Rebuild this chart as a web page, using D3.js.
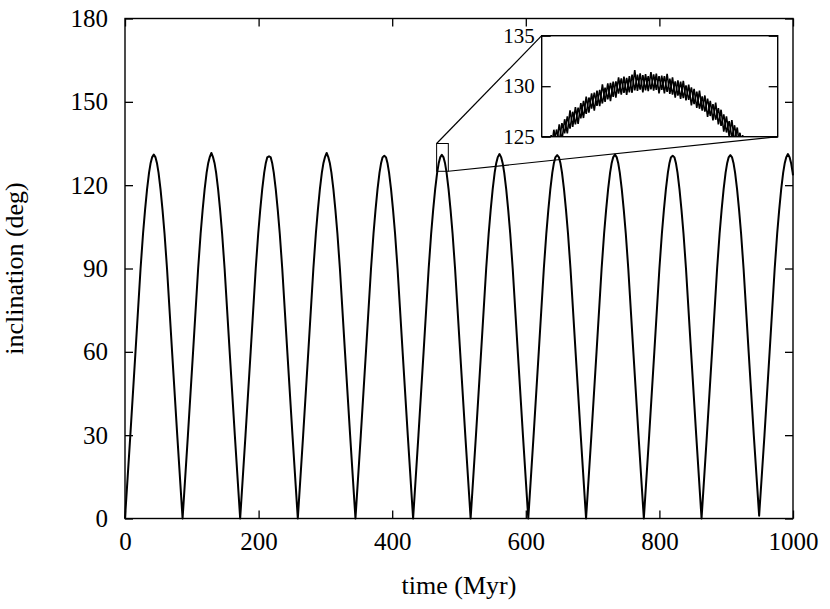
<!DOCTYPE html>
<html>
<head>
<meta charset="utf-8">
<script src="https://cdn.jsdelivr.net/npm/d3@7"></script>
<style>
body { margin: 0; background: #fff; }
svg { display: block; }
text { font-family: "Liberation Serif", "DejaVu Serif", serif; fill: #000; }
</style>
</head>
<body>
<script>
// inclination vs time (Myr, deg)
const time = [
  0, 8, 15.7, 23.3, 27, 30, 33, 36, 38.4, 40.5, 43.1, 45.7, 47.8, 50.2, 53.2, 56.2, 59.2, 62.9, 70.5, 78.2,
  86.2, 94.2, 101.9, 109.5, 113.2, 116.2, 119.2, 122.2, 124.6, 126.7, 129.3, 131.9, 134.0, 136.4, 139.4, 142.4, 145.4, 149.1, 156.7, 164.4,
  172.4, 180.4, 188.1, 195.7, 199.4, 202.4, 205.4, 208.4, 210.8, 212.9, 215.6, 218.2, 220.3, 222.7, 225.7, 228.7, 231.7, 235.4, 243.0, 250.7,
  258.7, 266.7, 274.4, 282.0, 285.7, 288.7, 291.7, 294.7, 297.1, 299.2, 301.9, 304.5, 306.6, 309.0, 312.0, 315.0, 318.0, 321.7, 329.3, 337.0,
  345.0, 353.0, 360.7, 368.3, 372.0, 375.0, 378.0, 381.0, 383.4, 385.5, 388.2, 390.8, 392.9, 395.3, 398.3, 401.3, 404.3, 408.0, 415.6, 423.3,
  431.3, 439.3, 447.0, 454.6, 458.3, 461.3, 464.3, 467.3, 469.7, 471.8, 474.3, 476.9, 479.0, 481.4, 484.4, 487.4, 490.4, 494.1, 501.7, 509.4,
  517.4, 525.4, 533.1, 540.7, 544.4, 547.4, 550.4, 553.4, 555.8, 557.9, 560.6, 563.2, 565.3, 567.7, 570.7, 573.7, 576.7, 580.4, 588.0, 595.7,
  603.7, 611.7, 619.4, 627.0, 630.7, 633.7, 636.7, 639.7, 642.1, 644.2, 647.0, 649.7, 651.8, 654.2, 657.2, 660.2, 663.2, 666.9, 674.5, 682.2,
  690.2, 698.2, 705.9, 713.5, 717.2, 720.2, 723.2, 726.2, 728.6, 730.7, 733.5, 736.2, 738.3, 740.7, 743.7, 746.7, 749.7, 753.4, 761.0, 768.7,
  776.7, 784.7, 792.4, 800.0, 803.7, 806.7, 809.7, 812.7, 815.1, 817.2, 819.9, 822.6, 824.7, 827.1, 830.1, 833.1, 836.1, 839.8, 847.4, 855.1,
  863.1, 871.1, 878.8, 886.4, 890.1, 893.1, 896.1, 899.1, 901.5, 903.6, 906.2, 908.8, 910.9, 913.3, 916.3, 919.3, 922.3, 926.0, 933.6, 941.3,
  949.3, 957.3, 965.0, 972.6, 976.3, 979.3, 982.3, 985.3, 987.7, 989.8, 992.4, 995.0, 997.1, 999.5, 1000
];
const incl = [
  0, 30, 60, 90, 102.5, 111, 118.5, 124.5, 128, 130, 131.0, 130, 128, 124.5, 118.5, 111, 102.5, 90, 60, 30,
  0, 30, 60, 90, 102.5, 111, 118.5, 124.5, 128, 130, 131.6, 130, 128, 124.5, 118.5, 111, 102.5, 90, 60, 30,
  0, 30, 60, 90, 102.5, 111, 118.5, 124.5, 128, 130, 130.4, 130, 128, 124.5, 118.5, 111, 102.5, 90, 60, 30,
  0, 30, 60, 90, 102.5, 111, 118.5, 124.5, 128, 130, 131.6, 130, 128, 124.5, 118.5, 111, 102.5, 90, 60, 30,
  0, 30, 60, 90, 102.5, 111, 118.5, 124.5, 128, 130, 130.6, 130, 128, 124.5, 118.5, 111, 102.5, 90, 60, 30,
  0, 30, 60, 90, 102.5, 111, 118.5, 124.5, 128, 130, 130.9, 130, 128, 124.5, 118.5, 111, 102.5, 90, 60, 30,
  0, 30, 60, 90, 102.5, 111, 118.5, 124.5, 128, 130, 131.2, 130, 128, 124.5, 118.5, 111, 102.5, 90, 60, 30,
  0, 30, 60, 90, 102.5, 111, 118.5, 124.5, 128, 130, 130.8, 130, 128, 124.5, 118.5, 111, 102.5, 90, 60, 30,
  0, 30, 60, 90, 102.5, 111, 118.5, 124.5, 128, 130, 131.0, 130, 128, 124.5, 118.5, 111, 102.5, 90, 60, 30,
  0, 30, 60, 90, 102.5, 111, 118.5, 124.5, 128, 130, 130.6, 130, 128, 124.5, 118.5, 111, 102.5, 90, 60, 30,
  0, 30, 60, 90, 102.5, 111, 118.5, 124.5, 128, 130, 130.8, 130, 128, 124.5, 118.5, 111, 102.5, 90, 60, 30,
  1, 30, 60, 90, 102.5, 111, 118.5, 124.5, 128, 130, 131.2, 130, 128, 124.5, 123.5
];

// zoomed stretch around the peak near 474 Myr (two overlapping traces)
const zoomTime = [
  467.0, 467.2, 467.4, 467.6, 467.8, 468.0, 468.2, 468.4, 468.6, 468.8,
  469.0, 469.2, 469.4, 469.6, 469.8, 470.0, 470.2, 470.4, 470.6, 470.8,
  471.0, 471.2, 471.4, 471.6, 471.8, 472.0, 472.2, 472.4, 472.6, 472.8,
  473.0, 473.2, 473.4, 473.6, 473.8, 474.0, 474.2, 474.4, 474.6, 474.8,
  475.0, 475.2, 475.4, 475.6, 475.8, 476.0, 476.2, 476.4, 476.6, 476.8,
  477.0, 477.2, 477.4, 477.6, 477.8, 478.0, 478.2, 478.4, 478.6, 478.8,
  479.0, 479.2, 479.4, 479.6, 479.8, 480.0, 480.2, 480.4, 480.6, 480.8,
  481.0, 481.2, 481.4, 481.6
];
const zoomInclA = [
  124.8, 123.45, 125.69, 124.21, 126.23, 124.64, 126.73, 125.32, 127.6, 125.97,
  127.93, 126.28, 128.32, 126.85, 128.97, 127.38, 129.28, 127.57, 129.56, 128.03,
  130.19, 128.45, 130.29, 128.53, 130.45, 128.87, 130.87, 129.17, 130.95, 129.13,
  131.0, 129.35, 131.6, 129.54, 131.27, 129.39, 131.2, 129.5, 131.39, 129.57,
  131.24, 129.3, 131.05, 129.3, 131.23, 129.25, 130.87, 128.87, 130.57, 128.75,
  130.53, 128.59, 130.15, 128.09, 129.73, 127.86, 129.57, 127.58, 129.08, 126.97,
  128.55, 126.62, 128.38, 126.23, 127.67, 125.5, 127.02, 125.03, 126.64, 124.53,
  125.91, 123.69, 125.15, 123.1
];
const zoomInclB = [
  123.3, 125.15, 124.09, 125.71, 124.53, 126.34, 125.33, 127.02, 125.8, 127.47,
  126.23, 127.88, 126.82, 128.55, 127.27, 128.88, 127.78, 129.37, 128.06, 129.63,
  128.29, 129.85, 128.69, 130.33, 128.95, 130.47, 129.27, 130.77, 129.35, 130.83,
  129.4, 131.15, 129.6, 131.14, 129.67, 131.09, 129.6, 131.0, 129.69, 131.17,
  129.64, 131.0, 129.65, 131.0, 129.43, 130.75, 129.17, 130.47, 129.07, 130.45,
  128.83, 130.09, 128.65, 129.89, 128.23, 129.46, 127.77, 128.98, 127.48, 128.77,
  127.05, 128.22, 126.68, 127.83, 126.07, 127.2, 125.42, 126.53, 124.94, 126.13,
  124.31, 125.39, 123.75, 124.8
];

const xTicks = [0, 200, 400, 600, 800, 1000];
const yTicks = [0, 30, 60, 90, 120, 150, 180];
const zoomXRange = [466.5, 484];
const zoomYRange = [125, 135];
const zoomYTicks = [125, 130, 135];

const width = 830, height = 609;
const svg = d3.select("body").append("svg")
    .attr("width", width).attr("height", height);

const x = d3.scaleLinear().domain([0, 1000]).range([125, 793]);
const y = d3.scaleLinear().domain([0, 180]).range([518.5, 18.5]);

const data = time.map((t, i) => ({t: t, v: incl[i]}));
const line = d3.line().x(d => x(d.t)).y(d => y(d.v));

svg.append("path")
    .datum(data)
    .attr("d", line)
    .attr("fill", "none")
    .attr("stroke", "#000")
    .attr("stroke-width", 2)
    .attr("stroke-linejoin", "round");

// axes, ticks inward and mirrored
let tickLen = 8;
svg.append("g").attr("transform", "translate(0,518.5)")
    .call(d3.axisBottom(x).tickValues(xTicks).tickSize(-tickLen).tickPadding(14).tickFormat(d3.format("d")));
svg.append("g").attr("transform", "translate(0,18.5)")
    .call(d3.axisTop(x).tickValues(xTicks).tickSize(-tickLen).tickFormat(""));
svg.append("g").attr("transform", "translate(125,0)")
    .call(d3.axisLeft(y).tickValues(yTicks).tickSize(-tickLen).tickPadding(17).tickFormat(d3.format("d")));
svg.append("g").attr("transform", "translate(793,0)")
    .call(d3.axisRight(y).tickValues(yTicks).tickSize(-tickLen).tickFormat(""));

svg.selectAll(".domain").remove();
svg.selectAll(".tick line").attr("stroke", "#000").attr("stroke-width", 1.3);
svg.selectAll(".tick text")
    .attr("font-family", "Liberation Serif, serif")
    .attr("font-size", 25)
    .attr("fill", "#000");

svg.append("rect")
    .attr("x", 125).attr("y", 18.5)
    .attr("width", 668).attr("height", 500)
    .attr("fill", "none").attr("stroke", "#000").attr("stroke-width", 1.4);

svg.append("text")
    .attr("x", 459).attr("y", 594)
    .attr("text-anchor", "middle")
    .attr("font-size", 26)
    .text("time (Myr)");

svg.append("text")
    .attr("transform", "translate(23,268.5) rotate(-90)")
    .attr("text-anchor", "middle")
    .attr("font-size", 26)
    .text("inclination (deg)");

// zoom box on main plot
let bx0 = x(zoomXRange[0]), bx1 = x(zoomXRange[1]);
let by0 = y(zoomYRange[1]), by1 = y(zoomYRange[0]);
svg.append("rect")
    .attr("x", bx0).attr("y", by0)
    .attr("width", bx1 - bx0).attr("height", by1 - by0)
    .attr("fill", "none").attr("stroke", "#000").attr("stroke-width", 1);

// inset
let ix0 = 541.7, ix1 = 777.7, iy0 = 35.7, iy1 = 136.7;
const xi = d3.scaleLinear().domain(zoomXRange).range([ix0, ix1]);
const yi = d3.scaleLinear().domain(zoomYRange).range([iy1, iy0]);

svg.append("line")
    .attr("x1", bx0).attr("y1", by0).attr("x2", ix0).attr("y2", iy0)
    .attr("stroke", "#000").attr("stroke-width", 1.2);
svg.append("line")
    .attr("x1", bx1).attr("y1", by1).attr("x2", ix1).attr("y2", iy1)
    .attr("stroke", "#000").attr("stroke-width", 1.2);

svg.append("rect")
    .attr("x", ix0).attr("y", iy0)
    .attr("width", ix1 - ix0).attr("height", iy1 - iy0)
    .attr("fill", "#fff");

svg.append("clipPath").attr("id", "insetClip")
    .append("rect")
    .attr("x", ix0).attr("y", iy0)
    .attr("width", ix1 - ix0).attr("height", iy1 - iy0);

let insetLine = d3.line().x(d => xi(d.t)).y(d => yi(d.v));
[zoomInclA, zoomInclB].forEach(function(series) {
    let pts = zoomTime.map((t, i) => ({t: t, v: series[i]}));
    svg.append("path")
        .datum(pts)
        .attr("clip-path", "url(#insetClip)")
        .attr("d", insetLine)
        .attr("fill", "none")
        .attr("stroke", "#000")
        .attr("stroke-width", 1.6);
});

let inset = svg.append("g");
inset.append("g").attr("transform", "translate(" + ix0 + ",0)")
    .call(d3.axisLeft(yi).tickValues(zoomYTicks).tickSize(-9).tickPadding(7).tickFormat(d3.format("d")));
inset.append("g").attr("transform", "translate(" + ix1 + ",0)")
    .call(d3.axisRight(yi).tickValues(zoomYTicks).tickSize(-9).tickFormat(""));
inset.selectAll(".domain").remove();
inset.selectAll(".tick line").attr("stroke", "#000").attr("stroke-width", 1.3);
inset.selectAll(".tick text")
    .attr("font-family", "Liberation Serif, serif")
    .attr("font-size", 21)
    .attr("fill", "#000");

svg.append("rect")
    .attr("x", ix0).attr("y", iy0)
    .attr("width", ix1 - ix0).attr("height", iy1 - iy0)
    .attr("fill", "none").attr("stroke", "#000").attr("stroke-width", 1.4);
</script>
</body>
</html>
